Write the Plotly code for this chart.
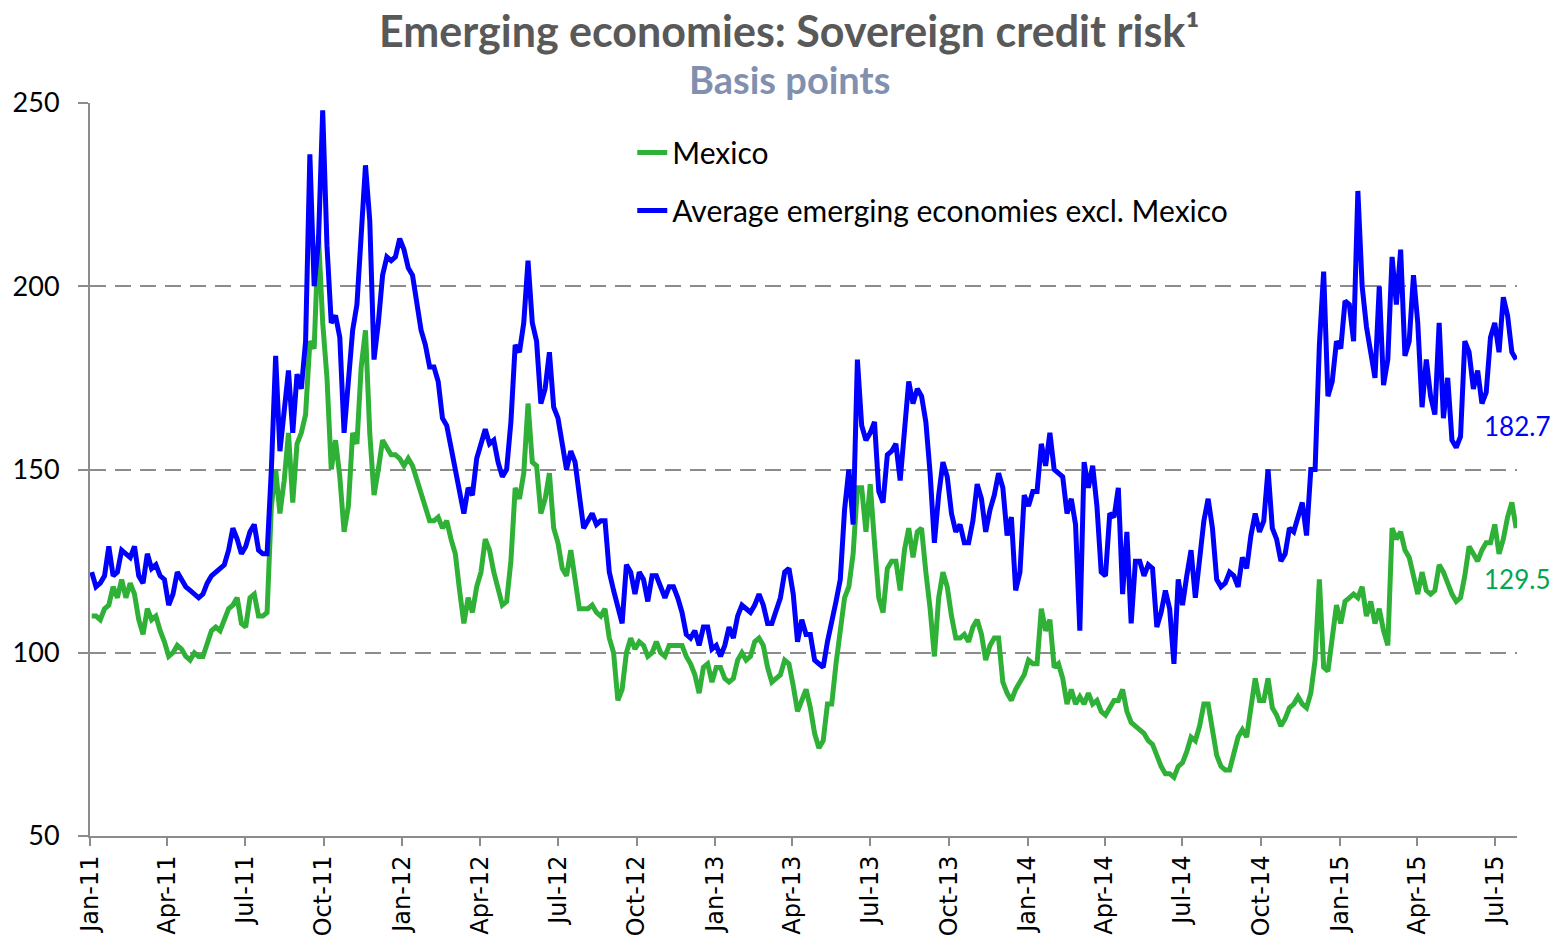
import pandas as pd
import plotly.graph_objects as go

start_date = "2011-01-03"
step = "5D"

avg_em_excl_mexico = [
    122,118,119,121,129,121,122,128,127,126,
    129,121,119,127,123,124,121,120,113,116,
    122,120,118,117,116,115,116,119,121,122,
    123,124,128,134,131,127,129,133,135,128,
    127,127,150,181,155,165,177,160,176,172,
    185,236,200,212,248,211,190,192,186,160,
    173,188,195,215,233,218,180,190,203,208,
    207,208,213,210,205,203,195,188,184,178,
    178,174,164,162,156,150,144,138,145,143,
    153,157,161,157,158,152,148,150,163,184,
    182,190,207,190,185,168,172,182,167,164,
    157,150,155,152,143,134,136,138,135,136,
    136,122,117,112,108,124,122,116,122,120,
    114,121,121,118,115,118,118,115,111,105,
    104,106,102,107,107,101,102,99,102,107,
    104,110,113,112,111,113,116,113,108,108,
    112,115,122,123,116,103,109,105,105,98,
    97,96,103,108,114,120,139,150,135,180,
    162,158,160,163,144,141,154,155,157,147,
    160,174,168,172,170,163,149,130,143,152,
    148,138,133,135,130,130,136,146,142,133,
    139,143,149,145,132,137,117,122,143,140,
    144,144,157,151,160,150,149,148,138,142,
    135,106,152,145,151,140,122,121,138,137,
    145,116,133,108,125,125,121,124,123,107,
    111,117,112,97,120,113,121,128,115,126,
    136,142,134,120,118,119,122,121,118,126,
    123,132,138,133,136,150,134,131,125,127,
    134,133,137,141,132,150,150,184,204,170,
    174,185,183,196,195,185,226,200,189,182,
    175,200,173,180,208,195,210,181,185,203,
    190,167,180,170,165,190,164,175,158,156,
    159,185,182,172,177,168,171,186,190,182,
    197,192,182,180,
]

mexico = [
    110,110,109,112,113,118,115,120,115,119,
    116,109,105,112,109,110,106,103,99,100,
    102,101,99,98,100,99,99,103,106,107,
    106,109,112,113,115,108,107,115,116,110,
    110,111,140,150,138,147,160,141,157,160,
    165,185,183,214,190,175,150,158,148,133,
    140,160,157,178,188,160,143,150,158,156,
    154,154,153,151,153,151,147,143,140,136,
    136,137,134,136,131,127,117,108,115,111,
    118,122,131,128,122,117,113,114,125,145,
    142,149,168,152,151,138,142,149,134,130,
    123,121,128,120,112,112,112,113,111,110,
    112,104,100,87,90,100,104,101,103,102,
    99,100,103,100,99,102,102,102,102,99,
    97,94,89,96,97,92,96,96,93,92,
    93,98,100,98,99,103,104,102,96,92,
    93,94,98,97,91,84,87,90,85,78,
    74,76,86,86,97,106,115,118,127,145,
    145,133,146,130,115,111,123,125,125,117,
    128,134,126,133,134,122,112,99,115,122,
    118,110,104,104,105,103,107,109,105,98,
    102,104,104,92,89,87,90,92,94,98,
    97,97,112,106,109,96,97,93,86,90,
    86,88,86,89,86,87,84,83,85,87,
    87,90,84,81,80,79,78,76,75,72,
    69,67,67,66,69,70,73,77,76,80,
    86,86,79,72,69,68,68,72,77,79,
    77,85,93,87,87,93,85,83,80,82,
    85,86,88,86,85,89,98,120,96,95,
    103,113,108,114,115,116,115,118,110,114,
    108,112,106,102,134,131,133,128,126,121,
    116,122,117,116,117,124,122,119,116,114,
    115,121,129,127,125,128,130,130,135,127,
    131,137,141,134,
]

tick_dates = [
    "2011-01-01","2011-04-01","2011-07-01","2011-10-01",
    "2012-01-01","2012-04-01","2012-07-01","2012-10-01",
    "2013-01-01","2013-04-01","2013-07-01","2013-10-01",
    "2014-01-01","2014-04-01","2014-07-01","2014-10-01",
    "2015-01-01","2015-04-01","2015-07-01",
]
tick_labels = [
    "Jan-11","Apr-11","Jul-11","Oct-11",
    "Jan-12","Apr-12","Jul-12","Oct-12",
    "Jan-13","Apr-13","Jul-13","Oct-13",
    "Jan-14","Apr-14","Jul-14","Oct-14",
    "Jan-15","Apr-15","Jul-15",
]
y_ticks = [50, 100, 150, 200, 250]

latest_avg_label = "182.7"
latest_mex_label = "129.5"

dates = pd.date_range(start_date, periods=len(mexico), freq=step)

GREEN = "#2EB136"
BLUE = "#0000FF"
GRID = "#8C8C8C"

fig = go.Figure()
fig.add_trace(go.Scatter(
    x=dates, y=mexico, mode="lines", name="Mexico", legendgroup="mex",
    line=dict(color=GREEN, width=5),
))
fig.add_trace(go.Scatter(
    x=dates, y=avg_em_excl_mexico, mode="lines",
    name="Average emerging economies excl. Mexico", legendgroup="avg",
    line=dict(color=BLUE, width=5),
))

fig.update_layout(
    width=1560, height=946,
    # page body has an 8px margin, so offset the figure margins accordingly
    margin=dict(l=82, r=51, t=95, b=118),
    paper_bgcolor="white", plot_bgcolor="white",
    font=dict(family="Lato", color="#000000"),
    showlegend=True,
    legend=dict(
        x=0.38, y=0.968, xanchor="left", yanchor="top",
        font=dict(family="Lato", size=30, color="#000000"),
        bgcolor="rgba(0,0,0,0)", tracegroupgap=16,
    ),
    xaxis=dict(
        type="date", range=["2011-01-01", "2015-07-27"],
        tickmode="array", tickvals=tick_dates, ticktext=tick_labels,
        tickangle=-90, ticks="outside", ticklen=8, tickwidth=2, tickcolor=GRID,
        showline=True, linecolor=GRID, linewidth=2, showgrid=False,
        tickfont=dict(family="DejaVu Sans", size=24, color="#000000"),
        zeroline=False, automargin=False,
    ),
    yaxis=dict(
        range=[50, 250], tickmode="array", tickvals=y_ticks,
        ticks="outside", ticklen=10, tickwidth=2, tickcolor=GRID,
        ticklabelstandoff=13,
        showline=True, linecolor=GRID, linewidth=2,
        showgrid=True, gridcolor=GRID, gridwidth=2, griddash="16px,9px",
        tickfont=dict(family="Lato", size=27, color="#000000"),
        zeroline=False, automargin=False,
    ),
    annotations=[
        dict(text="<b>Emerging economies: Sovereign credit risk\u00b9</b>",
             xref="paper", yref="paper", x=0.49, y=1.099, xanchor="center", yanchor="middle",
             showarrow=False, font=dict(family="Lato", size=43, color="#595959")),
        dict(text="<b>Basis points</b>",
             xref="paper", yref="paper", x=0.49, y=1.033, xanchor="center", yanchor="middle",
             showarrow=False, font=dict(family="Lato", size=38, color="#8290B0")),
        dict(text=latest_avg_label, xref="paper", yref="y", x=1.0, y=162,
             xanchor="center", yanchor="middle", showarrow=False,
             font=dict(family="Lato", size=26, color=BLUE)),
        dict(text=latest_mex_label, xref="paper", yref="y", x=1.0, y=120,
             xanchor="center", yanchor="middle", showarrow=False,
             font=dict(family="Lato", size=26, color="#00A651")),
    ],
)

fig.write_html("out.html")
